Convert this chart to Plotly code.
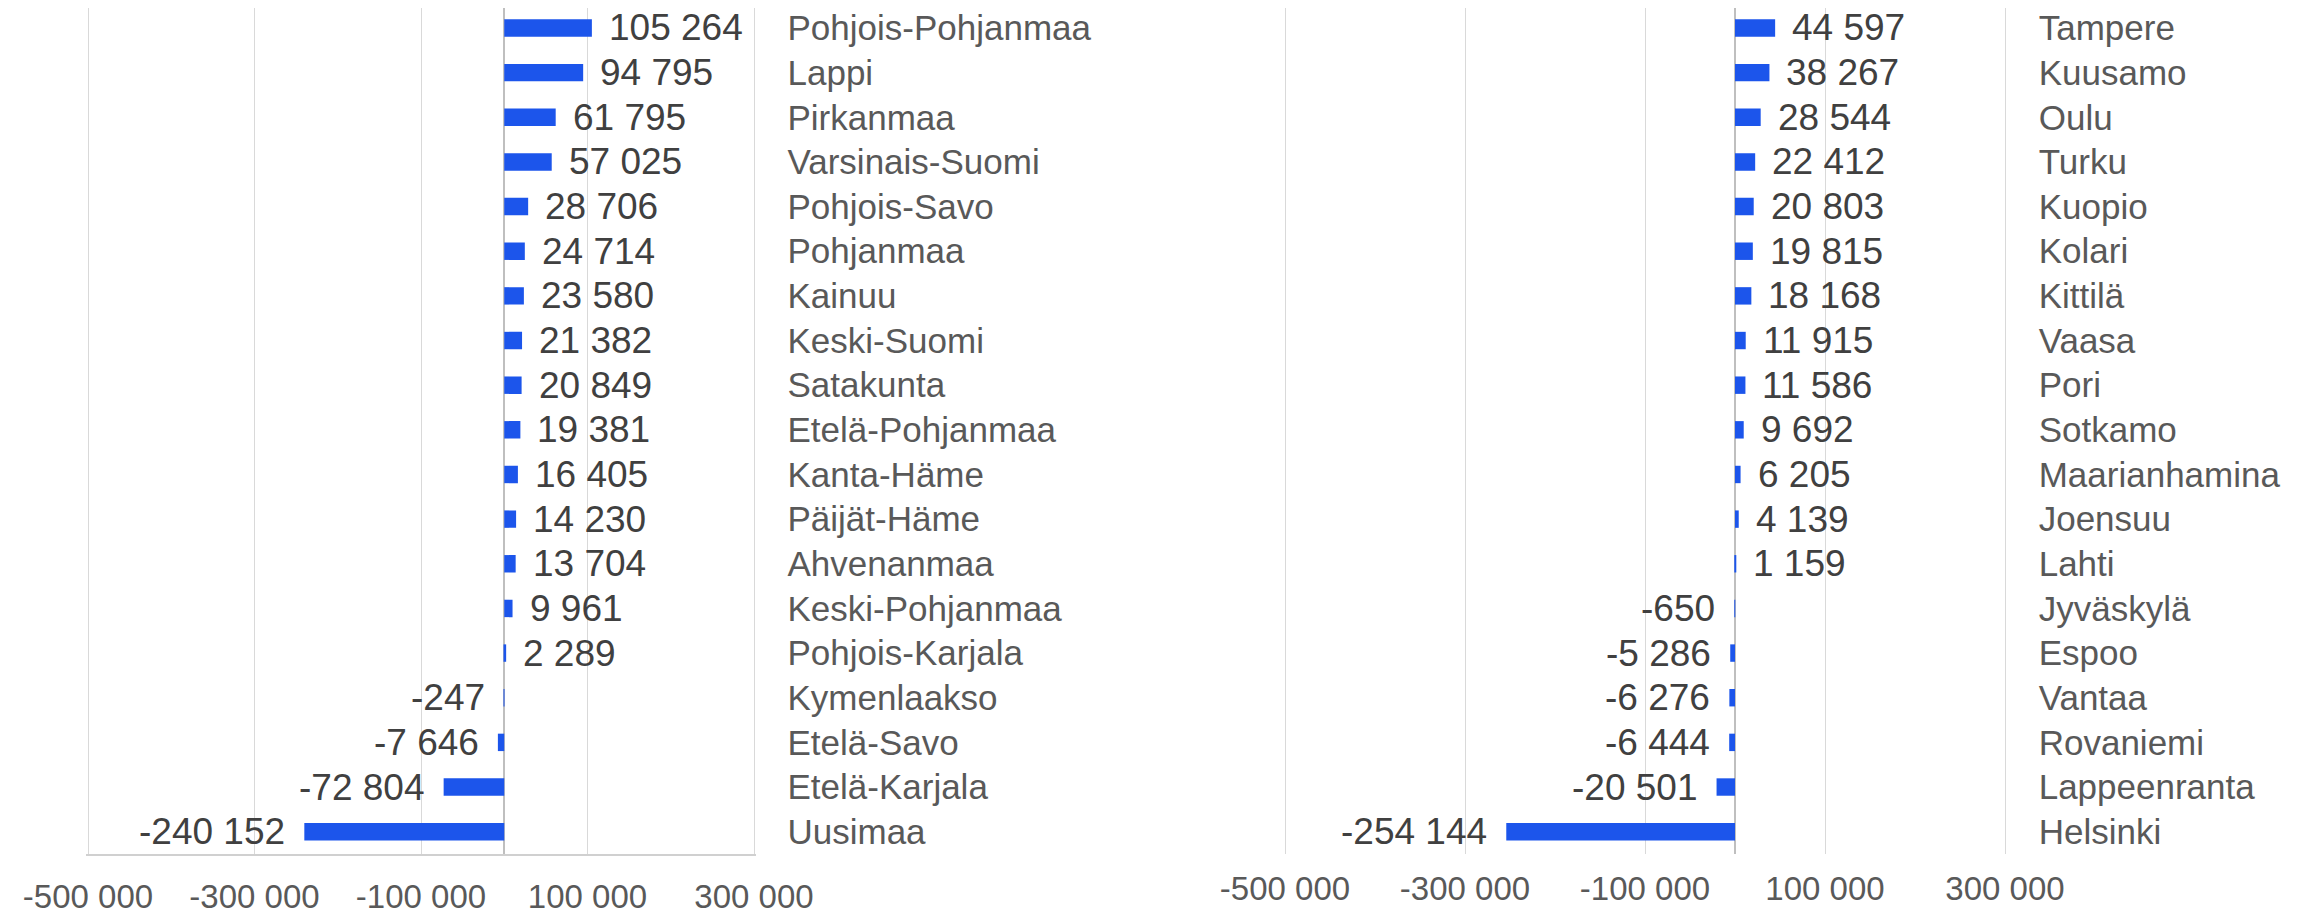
import plotly.graph_objects as go

# ---- data ----
regions = ["Pohjois-Pohjanmaa", "Lappi", "Pirkanmaa", "Varsinais-Suomi", "Pohjois-Savo",
           "Pohjanmaa", "Kainuu", "Keski-Suomi", "Satakunta", "Etelä-Pohjanmaa",
           "Kanta-Häme", "Päijät-Häme", "Ahvenanmaa", "Keski-Pohjanmaa", "Pohjois-Karjala",
           "Kymenlaakso", "Etelä-Savo", "Etelä-Karjala", "Uusimaa"]
region_values = [105264, 94795, 61795, 57025, 28706, 24714, 23580, 21382, 20849, 19381,
                 16405, 14230, 13704, 9961, 2289, -247, -7646, -72804, -240152]

cities = ["Tampere", "Kuusamo", "Oulu", "Turku", "Kuopio", "Kolari", "Kittilä", "Vaasa",
          "Pori", "Sotkamo", "Maarianhamina", "Joensuu", "Lahti", "Jyväskylä", "Espoo",
          "Vantaa", "Rovaniemi", "Lappeenranta", "Helsinki"]
city_values = [44597, 38267, 28544, 22412, 20803, 19815, 18168, 11915, 11586, 9692,
               6205, 4139, 1159, -650, -5286, -6276, -6444, -20501, -254144]

tick_values = [-500000, -300000, -100000, 100000, 300000]
tick_labels = ["-500 000", "-300 000", "-100 000", "100 000", "300 000"]

# ---- style ----
FONT = "Liberation Sans"
BAR_COLOR = "#1C55EB"
GRID = "#D9D9D9"
VAL_COLOR = "#404040"
CAT_COLOR = "#595959"

# page has an 8px body margin; figure is sized to fill the rest of the window
OFF = 8
W, H = 2313 - OFF, 915 - OFF
XMIN, XMAX = -500000, 300000
PAD = 3000  # small extra range so edge gridlines are drawn


def xdomain(px_left, px_right):
    scale = (px_right - px_left) / (XMAX - XMIN)
    left = px_left - PAD * scale - OFF
    right = px_right + PAD * scale - OFF
    return [left / W, right / W]


def fmt(v):
    return f"{v:,}".replace(",", " ")


fig = go.Figure()
fig.add_trace(go.Bar(x=region_values, y=regions, orientation="h", width=0.39,
                     marker=dict(color=BAR_COLOR, line=dict(width=0)),
                     xaxis="x", yaxis="y", hoverinfo="x+y"))
fig.add_trace(go.Bar(x=city_values, y=cities, orientation="h", width=0.39,
                     marker=dict(color=BAR_COLOR, line=dict(width=0)),
                     xaxis="x2", yaxis="y2", hoverinfo="x+y"))

annotations = []
for cats, vals, xr, yr in [(regions, region_values, "x", "y"), (cities, city_values, "x2", "y2")]:
    for c, v in zip(cats, vals):
        pos = v >= 0
        annotations.append(dict(
            x=v, y=c, xref=xr, yref=yr, text=fmt(v), showarrow=False,
            xanchor="left" if pos else "right", yanchor="middle",
            xshift=15 if pos else -17,
            font=dict(family=FONT, size=37, color=VAL_COLOR)))

# plot area: page y from 8 (top of figure) to 854; slot height 44.65 px
PLOT_BOTTOM = 854
SLOT = 44.65
plot_h = PLOT_BOTTOM - OFF
ydom = [(H - plot_h) / H, 1.0]
n = len(regions)
yrange = [n - 0.5, n - 0.5 - plot_h / SLOT]

xcommon = dict(range=[XMIN - PAD, XMAX + PAD], tickvals=tick_values, ticktext=tick_labels,
               showgrid=True, gridcolor=GRID, gridwidth=1,
               zeroline=True, zerolinecolor="#BFBFBF", zerolinewidth=1.5,
               tickfont=dict(family=FONT, size=33, color=CAT_COLOR),
               ticks="", ticklabelstandoff=12, automargin=False, fixedrange=True)
ycommon = dict(type="category", range=yrange, side="right", showgrid=False,
               showline=False, zeroline=False, ticks="", ticklabelstandoff=30,
               tickfont=dict(family=FONT, size=35, color=CAT_COLOR),
               automargin=False, domain=ydom, fixedrange=True)

fig.update_layout(
    width=W, height=H,
    margin=dict(l=0, r=0, t=0, b=0),
    paper_bgcolor="white", plot_bgcolor="white",
    showlegend=False, bargap=0.61,
    xaxis=dict(domain=xdomain(88, 754), anchor="y",
               showline=True, linecolor="#D0D0D0", linewidth=2, **xcommon),
    xaxis2=dict(domain=xdomain(1285, 2005), anchor="y2",
                showline=False, **xcommon),
    yaxis=dict(anchor="x", categoryarray=regions, categoryorder="array", **ycommon),
    yaxis2=dict(anchor="x2", categoryarray=cities, categoryorder="array", **ycommon),
    annotations=annotations,
    font=dict(family=FONT),
)

fig.write_html("out.html")
